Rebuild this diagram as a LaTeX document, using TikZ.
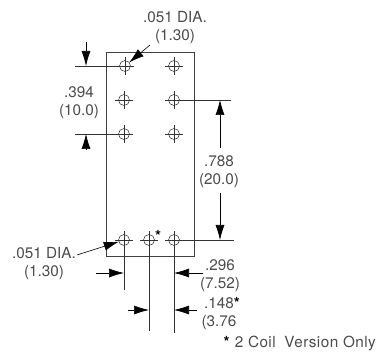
\documentclass[tikz,border=0pt]{standalone}
\usepackage{fontspec}
\setmainfont{TeX Gyre Heros}
\usetikzlibrary{arrows.meta}
\colorlet{mytext}{black!70}
\colorlet{myline}{black!80}
\tikzset{
  hole/.style={circle,draw=black,thin,minimum size=11,inner sep=0,outer sep=0},
  dim/.style={text=mytext,font=\fontsize{15.3}{18}\selectfont,align=center,inner sep=0},
  board/.style={draw=black!75,line width=0.9},
  ext/.style={draw=myline,line width=0.6},
  dim arrow/.style={-{Latex[length=15,width=9]},draw=black,line width=0.6}
}
\newcommand{\starmark}{\textcolor{black}{\textbf{*}}}
\begin{document}
\begin{tikzpicture}[x=1pt,y=-1pt]
  \useasboundingbox (0,0) rectangle (378,352);
  \draw[board] (106,52) rectangle (194,256);

  \node[hole] (h11) at (125,66) {};
  \node[hole] (h12) at (174,66) {};
  \node[hole] (h21) at (124,100) {};
  \node[hole] (h22) at (174,100) {};
  \node[hole] (h31) at (124,134) {};
  \node[hole] (h32) at (174,134) {};
  \node[hole] (h41) at (124,240) {};
  \node[hole] (h42) at (149,240) {};
  \node[hole] (h43) at (174,240) {};
  % cross lines on the holes
  \foreach \h in {h11,h12,h21,h22,h31,h32,h41,h42,h43}
    \draw[ext] (\h.center) +(-9,0) -- +(9,0) +(0,-9) -- +(0,9);

  \node[dim] (d1) at (175,28) {.051 DIA.\\(1.30)};
  \node[dim] (d2) at (79,103) {.394\\(10.0)};
  \node[dim] (d3) at (219,172) {.788\\(20.0)};
  \node[dim] (d4) at (44,264) {.051 DIA.\\(1.30)};
  \node[dim] (d5) at (220,275.5) {.296\\(7.52)};
  \node[dim] (d6) at (219,314) {.148\rlap{\starmark}\\(3.76};
  \node[dim,anchor=east] (note) at (376,343) {\addfontfeature{LetterSpace=3}\starmark\ 2 Coil\hspace{4pt} Version Only};
  \node[dim] (star) at (158,236) {\starmark};

  % extension lines
  \coordinate (e1) at (75,66);
  \coordinate (e2) at (75,134);
  \coordinate (e3) at (231,100);
  \coordinate (e4) at (234,240);
  \coordinate (e5) at (124,290);
  \coordinate (e6) at (149,331);
  \coordinate (e7) at (174,333);
  \draw[ext] (h11.center) -- (e1);
  \draw[ext] (h31.center) -- (e2);
  \draw[ext] (h22.center) -- (e3);
  \draw[ext] (h43.center) -- (e4);
  \draw[ext] (h41.center) -- (e5);
  \draw[ext] (h42.center) -- (e6);
  \draw[ext] (h43.center) -- (e7);

  % arrows
  \coordinate (a1) at (86,42);
  \coordinate (a1t) at (86,66);
  \coordinate (a2) at (86,150);
  \coordinate (a2t) at (86,134);
  \coordinate (a3) at (220,148);
  \coordinate (a3t) at (220,100);
  \coordinate (a4) at (220,193);
  \coordinate (a4t) at (220,240);
  \coordinate (a5) at (96,273);
  \coordinate (a5t) at (124,273);
  \coordinate (a6) at (203,273);
  \coordinate (a6t) at (174,273);
  \coordinate (a7) at (128,310);
  \coordinate (a7t) at (149,310);
  \coordinate (a8) at (197,310);
  \coordinate (a8t) at (174,310);
  \foreach \a in {a1,a2,a3,a4,a5,a6,a7,a8}
    \draw[dim arrow] (\a) -- (\a t);

  % leaders
  \coordinate (l1) at (150,45);
  \draw[dim arrow] (l1) -- (h11);
  \coordinate (l2) at (77,255);
  \draw[dim arrow] (l2) -- (h41);
\end{tikzpicture}
\end{document}
